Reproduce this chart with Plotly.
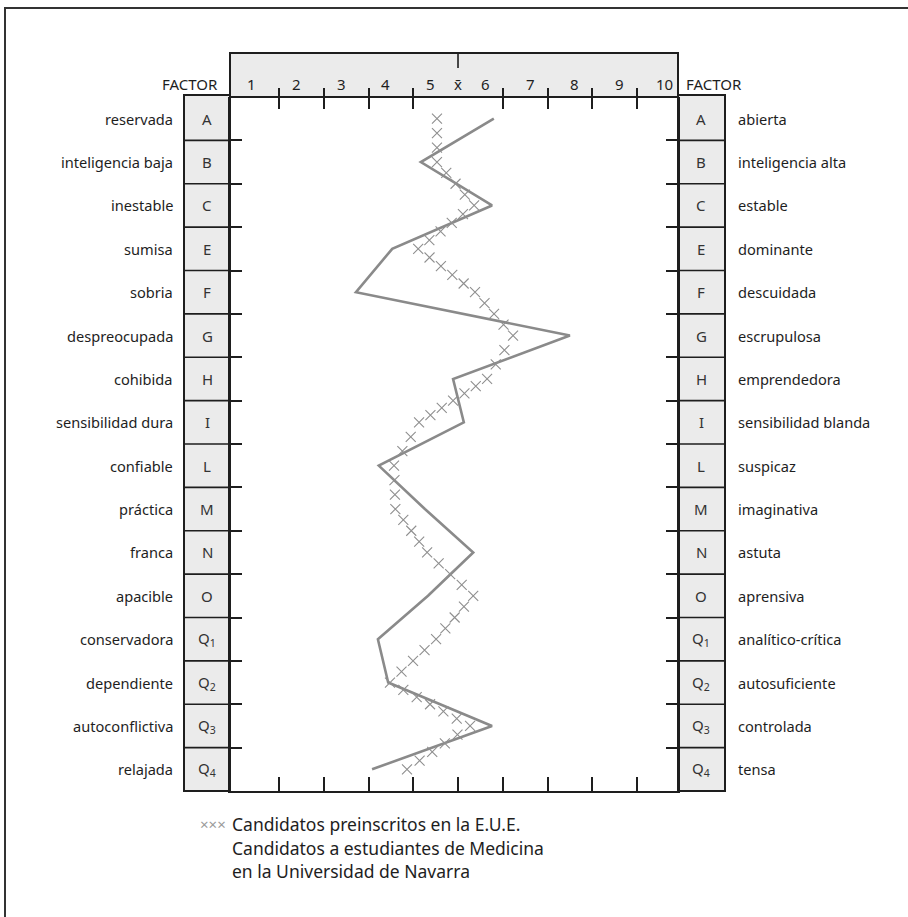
import math
import plotly.graph_objects as go

# ---------------- data ----------------
factors = ["A", "B", "C", "E", "F", "G", "H", "I", "L", "M", "N", "O",
           "Q<sub>1</sub>", "Q<sub>2</sub>", "Q<sub>3</sub>", "Q<sub>4</sub>"]
left_labels = ["reservada", "inteligencia baja", "inestable", "sumisa", "sobria",
               "despreocupada", "cohibida", "sensibilidad dura", "confiable",
               "práctica", "franca", "apacible", "conservadora", "dependiente",
               "autoconflictiva", "relajada"]
right_labels = ["abierta", "inteligencia alta", "estable", "dominante", "descuidada",
                "escrupulosa", "emprendedora", "sensibilidad blanda", "suspicaz",
                "imaginativa", "astuta", "aprensiva", "analítico-crítica",
                "autosuficiente", "controlada", "tensa"]
# Candidatos a estudiantes de Medicina (solid line)
medicina = [6.30, 4.67, 6.26, 4.03, 3.22, 8.00, 5.39, 5.63, 3.73, 4.76, 5.84,
            4.83, 3.71, 3.94, 6.26, 3.58]
# Candidatos preinscritos en la E.U.E. (line of crosses)
eue = [5.03, 5.03, 5.86, 4.61, 5.88, 6.73, 6.15, 4.63, 4.07, 4.10, 4.81,
       5.84, 5.01, 3.98, 5.77, 4.36]
sten_values = [1, 2, 3, 4, 5, 6, 7, 8, 9, 10]
sten_labels = ["1", "2", "3", "4", "5", "6", "7", "8", "9", "10"]
mean_value = 5.5
mean_label = "x\u0304"
legend_eue = "Candidatos preinscritos en la E.U.E."
legend_med = ["Candidatos a estudiantes de Medicina", "en la Universidad de Navarra"]

# ---------------- layout constants ----------------
W, H = 908, 917
ML, MR, MT, MB = 230, 230, 97, 126
PW = W - ML - MR
PH = H - MT - MB
XR = [0.405, 10.416]
n = len(factors)
YR = [n - 0.5, -0.5]
FONT = "Noto Sans"
INK = "#1e1e1e"
GRAY_FILL = "#ebebeb"
LINE_GRAY = "#8a8a8a"


def px_x(p):  # pixel -> paper
    return (p - ML) / PW


def px_y(p):
    return (H - MB - p) / PH


boundaries = [i - 0.5 for i in range(n + 1)]
sten_bounds = [v + 0.5 for v in sten_values[:-1]]
top_bounds = [b for b in sten_bounds if b != mean_value]

# The E.U.E. series is drawn with a "line of crosses" style: markers placed
# along each segment joining consecutive factor values.
ux = PW / (XR[1] - XR[0])
uy = PH / n


def crosses_along(vals, step=14.5):
    xs, ys = [], []
    for i in range(len(vals) - 1):
        a, b = vals[i], vals[i + 1]
        seg = math.hypot((b - a) * ux, uy)
        k = max(1, round(seg / step))
        for j in range(k):
            t = j / k
            xs.append(a + (b - a) * t)
            ys.append(i + t)
    xs.append(vals[-1])
    ys.append(len(vals) - 1)
    return xs, ys


cx, cy = crosses_along(eue)
rows = list(range(n))

fig = go.Figure()
fig.add_trace(go.Scatter(
    x=medicina, y=rows, mode="lines",
    line=dict(color=LINE_GRAY, width=2.6),
    showlegend=False, hoverinfo="skip"))
fig.add_trace(go.Scatter(
    x=cx, y=cy, mode="markers",
    marker=dict(symbol="x-thin", size=10, line=dict(color="#8f8f8f", width=1.1)),
    showlegend=False, hoverinfo="skip"))
fig.add_trace(go.Scatter(x=[], y=[], xaxis="x2", showlegend=False))

shapes = []
# outer frame
shapes.append(dict(type="rect", xref="paper", yref="paper",
                   x0=px_x(5), x1=px_x(930), y0=px_y(940), y1=px_y(8),
                   line=dict(color="#333", width=2), fillcolor="rgba(0,0,0,0)",
                   layer="below"))
# header box
shapes.append(dict(type="rect", xref="paper", yref="paper",
                   x0=0, x1=1, y0=1, y1=px_y(53),
                   line=dict(color=INK, width=2), fillcolor=GRAY_FILL, layer="below"))
# factor columns
for x0, x1 in [(px_x(184), 0), (1, px_x(725))]:
    shapes.append(dict(type="rect", xref="paper", yref="paper",
                       x0=x0, x1=x1, y0=0, y1=px_y(95),
                       line=dict(color=INK, width=2), fillcolor=GRAY_FILL,
                       layer="below"))
# row separators inside the factor columns
for b in boundaries[1:-1]:
    for x0, x1 in [(px_x(184), 0), (1, px_x(725))]:
        shapes.append(dict(type="line", xref="paper", yref="y",
                           x0=x0, x1=x1, y0=b, y1=b,
                           line=dict(color=INK, width=1.6)))
# mean tick hanging from the header top
shapes.append(dict(type="line", xref="x", yref="paper",
                   x0=mean_value, x1=mean_value, y0=px_y(53), y1=px_y(68),
                   line=dict(color=INK, width=1.6)))

ann = []
for i in range(n):
    ann.append(dict(x=px_x(175), y=i, xref="paper", yref="y", text=left_labels[i],
                    xanchor="right", yanchor="middle", showarrow=False,
                    font=dict(family=FONT, size=14.6, color=INK)))
    ann.append(dict(x=px_x(736), y=i, xref="paper", yref="y", text=right_labels[i],
                    xanchor="left", yanchor="middle", showarrow=False,
                    font=dict(family=FONT, size=14.6, color=INK)))
    for xc in (px_x(207), px_x(701)):
        ann.append(dict(x=xc, y=i, xref="paper", yref="y", text=factors[i],
                        xanchor="center", yanchor="middle", showarrow=False,
                        font=dict(family=FONT, size=15, color="#333")))
for v, t in zip(sten_values, sten_labels):
    ann.append(dict(x=v, y=px_y(84), xref="x", yref="paper", text=t,
                    xanchor="center", yanchor="middle", showarrow=False,
                    xshift=-5 if v < mean_value else 5,
                    font=dict(family=FONT, size=15, color=INK)))
ann.append(dict(x=mean_value, y=px_y(84), xref="x", yref="paper", text=mean_label,
                xanchor="center", yanchor="middle", showarrow=False,
                font=dict(family=FONT, size=15, color=INK)))
ann.append(dict(x=px_x(220), y=px_y(84), xref="paper", yref="paper", text="FACTOR",
                xanchor="right", yanchor="middle", showarrow=False,
                font=dict(family=FONT, size=15, color=INK)))
ann.append(dict(x=px_x(684), y=px_y(84), xref="paper", yref="paper", text="FACTOR",
                xanchor="left", yanchor="middle", showarrow=False,
                font=dict(family=FONT, size=15, color=INK)))
# legend
ann.append(dict(x=px_x(228), y=px_y(824), xref="paper", yref="paper", text="×××",
                xanchor="right", yanchor="middle", showarrow=False,
                font=dict(family=FONT, size=15, color="#9a9a9a")))
for k, t in enumerate([legend_eue] + legend_med):
    ann.append(dict(x=px_x(230), y=px_y(824 + 23.5 * k), xref="paper", yref="paper",
                    text=t, xanchor="left", yanchor="middle", showarrow=False,
                    font=dict(family=FONT, size=17.5, color=INK)))

fig.update_layout(
    width=W, height=H,
    margin=dict(l=ML, r=MR, t=MT, b=MB, pad=0),
    paper_bgcolor="white", plot_bgcolor="white",
    showlegend=False,
    font=dict(family=FONT, color=INK),
    shapes=shapes, annotations=ann,
    xaxis=dict(range=XR, showgrid=False, zeroline=False,
               tickmode="array", tickvals=sten_bounds, ticks="inside",
               ticklen=14, tickwidth=1.6, tickcolor=INK, showticklabels=False,
               showline=True, linecolor=INK, linewidth=2, mirror=False),
    xaxis2=dict(range=XR, overlaying="x", anchor="free", side="top",
                position=px_y(109), showgrid=False, zeroline=False,
                tickmode="array", tickvals=top_bounds, ticks="outside",
                ticklen=21, tickwidth=1.6, tickcolor=INK, showticklabels=False,
                showline=False),
    yaxis=dict(range=YR, showgrid=False, zeroline=False,
               tickmode="array", tickvals=boundaries, ticks="inside",
               ticklen=12, tickwidth=1.6, tickcolor=INK, showticklabels=False,
               showline=True, linecolor=INK, linewidth=2, mirror="ticks"),
)

fig.write_html("out.html", config={"displayModeBar": False},
               post_script="document.body.style.margin='0';")
